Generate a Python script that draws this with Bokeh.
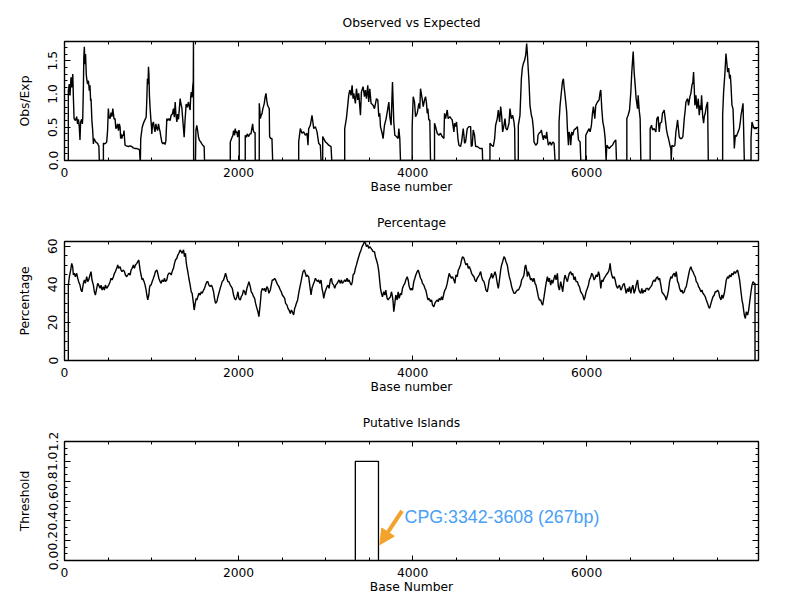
from bokeh.plotting import figure
from bokeh.models import (FixedTicker, LinearAxis, PrintfTickFormatter, Range1d,
                          Arrow, NormalHead, Label, CustomJSTickFormatter)
from bokeh.layouts import column
from bokeh.embed import file_html
from bokeh.resources import INLINE

# ---------------- data ----------------
SEQ_END = 7975

x_major = [0, 2000, 4000, 6000]

# Observed / Expected CpG ratio (base position, ratio)
oe_pos = [
    44, 44, 55, 63, 75, 85, 95, 102, 110, 125, 140, 150, 160, 170, 178, 185, 198, 205, 210, 217,
    222, 228, 235, 242, 250, 255, 265, 275, 285, 293, 300, 305, 315, 324, 332, 340, 351, 365, 380, 389,
    395, 400,
    447, 447, 460, 475, 485, 495, 504, 512, 524, 535, 545, 555, 562, 570, 581, 590, 600, 610, 620, 630,
    639, 645, 650, 658, 668, 677, 684, 690, 696, 710, 735, 750, 773, 790, 811, 830, 850, 862, 869, 872,
    876, 893, 907, 920, 938, 945, 953, 960, 965, 970, 976, 984, 992, 1000, 1003, 1012, 1022, 1030, 1040, 1050,
    1061, 1070, 1080, 1090, 1099, 1108, 1118, 1130, 1145, 1156, 1165, 1176, 1185, 1200, 1214, 1225, 1240, 1252, 1262, 1272,
    1280, 1291, 1300, 1310, 1320, 1329, 1338, 1348, 1360, 1375, 1385, 1398, 1410, 1425, 1435, 1444, 1450, 1456, 1465, 1475,
    1480, 1482, 1484, 1505, 1510, 1520, 1530, 1540, 1552, 1565, 1578, 1595, 1605, 1609,
    1905, 1905, 1920, 1935, 1943, 1955, 1962, 1970, 1981, 1990, 2000, 2008, 2008,
    2077, 2077, 2090, 2100, 2116, 2130, 2143, 2155, 2162, 2170, 2180, 2190, 2192,
    2238, 2238, 2245, 2250, 2260, 2269, 2280, 2296, 2305, 2315, 2325, 2334, 2345, 2353, 2357, 2370, 2384, 2392,
    2691, 2691, 2710, 2729, 2748, 2768, 2787, 2798, 2806, 2825, 2844, 2864, 2883, 2902, 2921, 2940, 2948, 2967, 2967, 2979,
    2998, 3017, 3036, 3063, 3071,
    3220, 3220, 3239, 3255, 3266, 3278, 3293, 3305, 3316, 3324, 3343, 3355, 3370, 3381, 3401, 3412, 3431, 3447, 3458, 3470,
    3485, 3496, 3508, 3523, 3546, 3562, 3585, 3600, 3612, 3623, 3631, 3650, 3661, 3677, 3696, 3715, 3727, 3738, 3753, 3769,
    3784, 3796, 3815, 3834, 3842, 3853, 3861,
    3995, 3995, 4007, 4022, 4034, 4053, 4072, 4083, 4091, 4110, 4122, 4137, 4149, 4160, 4168, 4175, 4187, 4198, 4206,
    4252, 4252, 4264, 4283, 4302, 4321, 4340, 4360, 4367, 4379, 4398, 4409, 4429, 4444, 4455, 4475, 4482, 4494, 4505, 4521,
    4532, 4551, 4563, 4582, 4590, 4597, 4609, 4628, 4647, 4667, 4674, 4686, 4697, 4712, 4724, 4743, 4774, 4801, 4805,
    4889, 4889, 4908, 4927, 4943, 4954, 4973, 4985, 5000, 5012, 5023, 5035, 5050, 5062, 5073, 5088, 5108, 5119, 5134, 5150,
    5165, 5173, 5177,
    5215, 5215, 5234, 5250, 5261, 5273, 5288, 5300, 5311, 5319, 5326, 5338, 5349, 5365, 5376, 5388, 5395, 5415, 5434, 5441,
    5453, 5472, 5480, 5491, 5503, 5511, 5530, 5541, 5549, 5560, 5580, 5595, 5610, 5626, 5637,
    5683, 5683, 5695, 5710, 5722, 5733, 5741, 5748, 5760, 5771, 5779, 5791, 5798, 5810, 5817, 5829, 5840, 5856, 5875, 5894,
    5906, 5925, 5933,
    5990, 5990, 6009, 6028, 6040, 6055, 6067, 6078, 6094, 6105, 6124, 6143, 6155, 6163, 6174, 6186, 6201, 6213, 6224, 6232,
    6259, 6278, 6297, 6316, 6335, 6343,
    6462, 6462, 6477, 6493, 6508, 6519, 6535, 6546, 6558, 6569, 6585, 6592, 6604, 6615, 6623,
    6730, 6730, 6746, 6757, 6776, 6796, 6807, 6822, 6834, 6845, 6861, 6872, 6891, 6903, 6918, 6930, 6941, 6957, 6968, 6972,
    6980, 6999, 7014, 7026, 7037, 7045, 7064, 7076, 7091, 7106, 7122, 7133, 7141, 7160, 7171, 7187, 7198, 7210, 7221, 7229,
    7237, 7244, 7256, 7267, 7283, 7294, 7306, 7313, 7321, 7333, 7344, 7352, 7363, 7375, 7390, 7398,
    7563, 7563, 7574, 7590, 7601, 7613, 7620, 7632, 7643, 7651, 7659, 7670, 7682, 7689, 7697, 7709, 7720, 7735, 7755, 7766,
    7774, 7785, 7797, 7804, 7812,
    7889, 7889, 7900, 7916, 7927, 7946, 7958,
]
oe_val = [
    0, 1.05, 1.15, 0.98, 1.25, 1.10, 1.30, 0.95, 0.63, 0.60, 0.66, 0.55, 0.62, 0.50, 0.31, 0.58, 0.62, 0.55, 0.65, 1.10,
    1.55, 1.71, 1.45, 1.60, 1.30, 1.23, 1.15, 1.20, 1.05, 1.13, 0.90, 0.93, 0.60, 0.45, 0.25, 0.33, 0.30, 0.27, 0.26, 0.23,
    0.22, 0,
    0, 0.26, 0.25, 0.26, 0.28, 0.45, 0.78, 0.65, 0.63, 0.72, 0.66, 0.78, 0.70, 0.62, 0.63, 0.48, 0.50, 0.55, 0.45, 0.55,
    0.50, 0.33, 0.40, 0.33, 0.38, 0.38, 0.45, 0.33, 0.23, 0.22, 0.21, 0.22, 0.21, 0.19, 0.18, 0.18, 0.17, 0.16, 0, 0,
    0.33, 0.50, 0.56, 0.60, 0.65, 0.88, 1.23, 1.15, 1.41, 1.30, 0.98, 0.78, 0.63, 0.50, 0.40, 0.55, 0.58, 0.50, 0.43, 0.55,
    0.48, 0.45, 0.55, 0.48, 0.43, 0.35, 0.28, 0.25, 0.27, 0.24, 0.30, 0.63, 0.60, 0.63, 0.60, 0.68, 0.70, 0.78, 0.65, 0.88,
    0.70, 0.58, 0.70, 0.62, 0.78, 0.93, 0.85, 0.80, 0.60, 0.35, 0.60, 0.85, 0.80, 0.88, 0.80, 0.76, 0.95, 1.03, 0.95, 1.13,
    1.20, 1.79, 0, 0, 0.45, 0.53, 0.45, 0.35, 0.30, 0.28, 0.25, 0.22, 0.21, 0,
    0, 0.28, 0.33, 0.38, 0.45, 0.38, 0.48, 0.42, 0.43, 0.35, 0.45, 0.45, 0,
    0, 0.38, 0.35, 0.40, 0.36, 0.40, 0.40, 0.50, 0.55, 0.45, 0.42, 0.42, 0,
    0, 0.86, 0.75, 0.63, 0.68, 0.70, 0.78, 0.86, 0.95, 1.01, 0.90, 0.83, 0.80, 0.78, 0.36, 0.33, 0.33, 0,
    0, 0.28, 0.48, 0.41, 0.43, 0.38, 0.41, 0.23, 0.48, 0.53, 0.68, 0.48, 0.51, 0.43, 0.26, 0.23, 0, 0, 0.36, 0.33,
    0.28, 0.26, 0.23, 0.21, 0,
    0, 0.48, 0.63, 0.83, 0.98, 1.06, 0.98, 1.13, 0.93, 1.01, 0.86, 1.08, 0.91, 1.01, 0.68, 1.03, 1.11, 0.96, 1.06, 0.93,
    1.13, 0.88, 1.08, 0.86, 0.83, 0.78, 0.93, 0.91, 0.66, 0.71, 0.51, 0.41, 0.33, 0.53, 0.63, 0.78, 0.88, 0.66, 0.53, 1.18,
    0.58, 0.38, 0.36, 0.33, 0.48, 0.33, 0,
    0, 0.50, 0.96, 0.88, 0.66, 0.71, 0.86, 0.78, 1.08, 0.93, 0.81, 0.91, 0.96, 0.86, 0.71, 0.78, 0.61, 0.61, 0,
    0, 0.56, 0.51, 0.41, 0.38, 0.41, 0.36, 0.33, 0.71, 0.63, 0.76, 0.63, 0.66, 0.63, 0.61, 0.43, 0.56, 0.51, 0.58, 0.33,
    0.23, 0.21, 0.28, 0.48, 0.38, 0.26, 0.28, 0.48, 0.51, 0.51, 0.21, 0.23, 0.46, 0.38, 0.21, 0.21, 0.18, 0.18, 0,
    0, 0.26, 0.23, 0.21, 0.33, 0.53, 0.63, 0.76, 0.58, 0.81, 0.68, 0.43, 0.53, 0.63, 0.48, 0.46, 0.56, 0.78, 0.63, 0.68,
    0.58, 0.48, 0,
    0, 0.53, 0.68, 1.23, 1.39, 1.46, 1.51, 1.59, 1.76, 1.61, 1.44, 1.18, 0.83, 0.68, 0.63, 0.48, 0.28, 0.23, 0.26, 0.38,
    0.41, 0.43, 0.46, 0.38, 0.31, 0.38, 0.33, 0.43, 0.33, 0.23, 0.28, 0.23, 0.28, 0.26, 0,
    0, 0.58, 0.83, 1.03, 1.18, 1.23, 1.11, 1.03, 0.88, 0.73, 0.48, 0.23, 0.43, 0.38, 0.23, 0.43, 0.38, 0.46, 0.48, 0.51,
    0.31, 0.28, 0,
    0, 0.38, 0.43, 0.48, 0.43, 0.53, 0.71, 0.81, 0.63, 0.83, 0.88, 0.91, 1.03, 1.06, 0.78, 0.58, 0.48, 0.33, 0, 0.23,
    0.18, 0.21, 0.23, 0.28, 0.31, 0,
    0, 0.63, 0.68, 0.76, 1.03, 1.33, 1.64, 1.33, 1.13, 0.93, 0.78, 0.98, 0.76, 0.63, 0,
    0, 0.48, 0.53, 0.46, 0.48, 0.43, 0.63, 0.66, 0.43, 0.56, 0.58, 0.71, 0.76, 0.63, 0.46, 0.38, 0.33, 0.23, 0.18, 0,
    0.23, 0.21, 0.23, 0.43, 0.53, 0.61, 0.36, 0.33, 0.33, 0.36, 0.63, 0.76, 0.88, 0.93, 0.83, 0.96, 1.01, 1.13, 1.18, 1.33,
    1.08, 0.83, 0.98, 0.78, 0.93, 0.68, 0.83, 0.76, 0.98, 0.68, 0.56, 0.66, 0.71, 0.81, 0.88, 0,
    0, 0.68, 1.03, 1.33, 1.61, 1.44, 1.33, 1.39, 1.23, 1.29, 1.13, 0.83, 0.78, 0.53, 0.18, 0.38, 0.36, 0.41, 0.48, 0.58,
    0.68, 0.76, 0.86, 0.48, 0,
    0, 0.33, 0.58, 0.51, 0.48, 0.48, 0.49,
]

# CG percentage (base position, percent)
pct_pos = [
    44, 44, 56, 71, 83, 94, 102, 113, 125, 140,
    152, 163, 178, 190, 201, 217, 228, 240, 255, 267,
    278, 293, 305, 316, 332, 343, 355, 370, 382, 393,
    409, 420, 432, 447, 458, 470, 485, 497, 508, 524,
    535, 547, 562, 574, 585, 600, 612, 623, 639, 650,
    662, 677, 689, 700, 715, 727, 738, 754, 765, 777,
    792, 804, 815, 831, 842, 853, 861, 869, 880, 892,
    899, 915, 926, 938, 946, 957, 969, 976, 984, 995,
    1007, 1022, 1034, 1045, 1061, 1072, 1084, 1099, 1110, 1122,
    1137, 1149, 1160, 1176, 1187, 1199, 1214, 1226, 1237, 1252,
    1264, 1275, 1291, 1302, 1314, 1329, 1341, 1352, 1368, 1379,
    1390, 1398, 1406, 1417, 1429, 1444, 1456, 1467, 1482, 1490,
    1502, 1513, 1521, 1532, 1544, 1559, 1571, 1582, 1598, 1609,
    1621, 1636, 1648, 1659, 1674, 1686, 1697, 1713, 1724, 1736,
    1751, 1763, 1774, 1789, 1801, 1812, 1828, 1839, 1851, 1866,
    1878, 1889, 1905, 1916, 1928, 1943, 1954, 1966, 1981, 1993,
    2004, 2020, 2031, 2043, 2058, 2070, 2081, 2096, 2108, 2119,
    2135, 2146, 2158, 2173, 2185, 2196, 2211, 2223, 2234, 2250,
    2261, 2273, 2288, 2300, 2311, 2326, 2338, 2349, 2365, 2376,
    2388, 2403, 2415, 2426, 2442, 2453, 2464, 2480, 2491, 2503,
    2518, 2530, 2541, 2557, 2568, 2580, 2595, 2607, 2618, 2633,
    2645,
    2653, 2664, 2679, 2691, 2702, 2718, 2729, 2741, 2756, 2768,
    2779, 2787, 2806, 2818, 2833, 2844, 2856, 2871, 2883, 2894,
    2910, 2921, 2933, 2948, 2959, 2971, 2979, 2990, 3002, 3017,
    3028, 3040, 3055, 3067, 3078, 3094, 3105, 3117, 3132, 3144,
    3155, 3170, 3182, 3193, 3209, 3220, 3232, 3247, 3259, 3270,
    3285, 3297, 3308, 3316, 3331, 3343, 3355, 3370, 3381, 3393,
    3408, 3420, 3431, 3447, 3458, 3470, 3485, 3496, 3508, 3523,
    3535, 3546, 3562, 3573, 3585, 3600, 3612, 3623, 3631, 3642,
    3654, 3669, 3681, 3692, 3707, 3719, 3730, 3746, 3757, 3769,
    3776, 3784, 3796, 3807, 3823, 3834, 3846, 3861, 3872, 3884,
    3899, 3911, 3922, 3938, 3949, 3961, 3976, 3987, 3999, 4014,
    4026, 4037, 4053, 4064, 4076, 4091, 4103, 4114, 4129, 4141,
    4152, 4168, 4179, 4191, 4206, 4218, 4229, 4244, 4256, 4267,
    4283, 4294, 4306, 4321, 4333, 4344, 4360, 4371, 4383, 4398,
    4409, 4421, 4436, 4448, 4459, 4475, 4486, 4498, 4513, 4525,
    4536, 4551, 4563, 4574, 4590, 4601, 4613, 4628, 4640, 4651,
    4667, 4678, 4689, 4705, 4716, 4728, 4743, 4755, 4766, 4782,
    4793, 4805, 4820, 4831, 4843, 4858, 4870, 4881, 4897, 4908,
    4920, 4935, 4947, 4958, 4973, 4985, 4996, 5012, 5023, 5035,
    5050, 5062, 5073, 5088, 5100, 5111, 5127, 5138, 5150, 5165,
    5177, 5188, 5203, 5215, 5226, 5242, 5253, 5265, 5280, 5292,
    5300, 5311, 5319, 5330, 5342, 5357, 5369, 5380, 5395, 5407,
    5418, 5434, 5445, 5457, 5472, 5484, 5495, 5511, 5522, 5534,
    5549, 5560, 5572, 5587, 5599, 5610, 5626, 5637, 5649, 5664,
    5675, 5687, 5702, 5714, 5725, 5741, 5752, 5764, 5779, 5791,
    5802, 5817, 5829, 5840, 5856, 5867, 5879, 5894, 5906, 5917,
    5932, 5944, 5955, 5971, 5982, 5994, 6009, 6021, 6032, 6048,
    6059, 6071, 6086, 6097, 6109, 6124, 6136, 6147, 6163, 6174,
    6186, 6201, 6213, 6224, 6239, 6251, 6262, 6270, 6278, 6289,
    6301, 6316, 6328, 6339, 6354, 6366, 6377, 6393, 6404, 6416,
    6431, 6443, 6454, 6470, 6481, 6493, 6508, 6519, 6531, 6546,
    6558, 6569, 6585, 6596, 6608, 6623, 6634, 6646, 6661, 6673,
    6684, 6700, 6711, 6723, 6738, 6750, 6761, 6776, 6788, 6799,
    6815, 6826, 6838, 6853, 6865, 6876, 6891, 6903, 6914, 6930,
    6941, 6953, 6968, 6980, 6991, 7007, 7018, 7030, 7045, 7056,
    7068, 7083, 7095, 7106, 7122, 7133, 7145, 7160, 7171, 7183,
    7198, 7210, 7221, 7237, 7248, 7260, 7275, 7286, 7298, 7313,
    7325, 7336, 7352, 7363, 7375, 7390, 7402, 7413, 7429, 7440,
    7452, 7467, 7478, 7490, 7505, 7517, 7528, 7544, 7555, 7567,
    7582, 7594, 7605, 7620, 7632, 7643, 7659, 7670, 7682, 7697,
    7709, 7720, 7735, 7747, 7758, 7774, 7785, 7797, 7804, 7812,
    7824, 7835, 7850, 7862, 7874, 7889, 7900, 7912, 7927, 7935,
    7935,
]
pct_val = [
    0, 39.6, 44.0, 47.5, 51.0, 49.3, 44.9, 45.8, 44.0, 45.8,
    43.2, 41.4, 39.6, 37.0, 36.1, 40.5, 42.3, 40.5, 44.0, 41.4,
    42.3, 44.9, 46.7, 42.3, 39.6, 36.1, 34.4, 37.9, 40.5, 39.6,
    37.9, 39.6, 37.0, 38.8, 37.0, 39.6, 37.9, 38.8, 39.6, 41.4,
    43.2, 42.3, 44.0, 45.8, 46.7, 48.4, 50.2, 48.4, 49.3, 47.5,
    46.7, 47.5, 46.7, 44.9, 44.0, 44.9, 45.8, 44.9, 47.5, 48.4,
    50.2, 48.4, 50.2, 51.0, 51.9, 52.8, 50.2, 47.5, 44.9, 42.3,
    43.2, 41.4, 39.6, 37.0, 34.4, 31.8, 34.4, 37.9, 39.6, 39.6,
    41.4, 43.2, 44.9, 46.7, 47.5, 45.8, 43.2, 41.4, 40.5, 42.3,
    41.4, 43.2, 41.4, 42.3, 44.9, 45.8, 45.8, 44.9, 46.7, 48.4,
    51.0, 52.8, 53.7, 55.4, 56.3, 58.1, 57.2, 56.3, 58.1, 54.5,
    56.3, 51.9, 49.3, 46.7, 43.2, 39.6, 36.1, 35.3, 30.0, 26.5,
    30.0, 32.6, 31.8, 33.5, 35.3, 34.4, 36.1, 35.3, 37.0, 37.9,
    39.6, 41.4, 41.4, 39.6, 38.8, 39.6, 38.8, 36.1, 32.6, 30.0,
    30.9, 33.5, 35.3, 37.9, 39.6, 41.4, 42.3, 44.0, 45.8, 43.2,
    41.4, 41.4, 39.6, 38.8, 37.9, 34.4, 32.6, 31.8, 33.5, 36.1,
    32.6, 31.8, 33.5, 34.4, 37.0, 36.1, 34.4, 37.9, 39.6, 41.4,
    38.8, 36.1, 35.3, 33.5, 32.6, 30.0, 27.4, 25.6, 23.0, 30.0,
    36.1, 37.9, 37.0, 37.9, 36.1, 38.8, 37.9, 35.3, 37.0, 39.6,
    42.3, 42.3, 43.2, 42.3, 40.5, 39.6, 38.8, 37.0, 36.1, 34.4,
    33.5, 32.6, 30.0, 29.1, 27.4, 26.5, 24.7, 26.5, 25.6, 23.9,
    27.4,
    28.2, 30.0, 31.8, 35.3, 37.9, 41.4, 44.0, 46.7, 47.5, 45.8,
    44.0, 44.9, 44.0, 39.6, 34.4, 37.9, 39.6, 41.4, 43.2, 42.3,
    41.4, 42.3, 40.5, 42.3, 37.9, 35.3, 32.6, 35.3, 37.0, 38.8,
    39.6, 37.9, 42.3, 43.2, 40.5, 39.6, 37.9, 39.6, 40.5, 41.4,
    42.3, 40.5, 42.3, 40.5, 41.4, 42.3, 41.4, 43.2, 41.4, 42.3,
    40.5, 39.6, 41.4, 44.9, 45.8, 48.4, 50.2, 52.8, 54.5, 56.3,
    58.1, 59.8, 60.7, 62.4, 61.6, 59.8, 60.7, 58.9, 59.8, 58.9,
    58.1, 57.2, 57.2, 54.5, 52.8, 50.2, 46.7, 41.4, 37.9, 35.3,
    33.5, 36.1, 34.4, 37.0, 32.6, 31.8, 32.6, 33.5, 36.1, 33.5,
    30.9, 25.6, 30.0, 34.4, 31.8, 36.1, 32.6, 35.3, 34.4, 37.9,
    39.6, 40.5, 42.3, 44.0, 42.3, 38.8, 37.0, 37.9, 37.0, 41.4,
    43.2, 44.9, 46.7, 47.5, 45.8, 43.2, 42.3, 40.5, 39.6, 37.9,
    37.0, 33.5, 31.8, 32.6, 30.9, 31.8, 29.1, 28.2, 30.0, 30.9,
    31.8, 30.9, 32.6, 31.8, 33.5, 31.8, 35.3, 37.0, 37.9, 40.5,
    43.2, 45.8, 44.0, 43.2, 44.0, 42.3, 40.5, 44.9, 44.0, 47.5,
    48.4, 50.2, 52.8, 54.5, 53.7, 51.9, 50.2, 51.0, 48.4, 49.3,
    47.5, 45.8, 44.9, 44.0, 42.3, 41.4, 43.2, 44.0, 44.9, 46.7,
    44.0, 42.3, 41.4, 39.6, 37.0, 36.1, 38.8, 42.3, 44.0, 45.8,
    43.2, 44.9, 46.7, 44.9, 40.5, 37.9, 41.4, 47.5, 50.2, 51.9,
    54.5, 53.7, 51.9, 50.2, 46.7, 44.0, 41.4, 38.8, 37.0, 35.3,
    35.3, 36.1, 37.0, 37.0, 37.9, 39.6, 42.3, 43.2, 44.9, 49.3,
    50.2, 47.5, 44.0, 46.7, 44.9, 42.3, 43.2, 41.4, 43.2, 40.5,
    39.6, 36.1, 33.5, 31.8, 31.8, 30.0, 29.1, 33.5, 37.0, 40.5,
    44.0, 41.4, 43.2, 39.6, 42.3, 40.5, 43.2, 44.9, 42.3, 45.8,
    38.8, 37.0, 41.4, 38.8, 36.1, 42.3, 44.9, 43.2, 41.4, 44.0,
    45.8, 46.7, 44.9, 45.8, 42.3, 44.0, 41.4, 41.4, 39.6, 38.8,
    36.1, 35.3, 34.4, 31.8, 33.5, 36.1, 37.9, 39.6, 42.3, 44.0,
    45.8, 44.9, 42.3, 43.2, 44.9, 44.0, 46.7, 44.9, 37.9, 42.3,
    41.4, 43.2, 44.0, 44.9, 45.8, 46.7, 48.4, 51.0, 47.5, 44.9,
    43.2, 44.0, 42.3, 39.6, 37.9, 38.8, 39.6, 37.0, 37.9, 39.6,
    40.5, 37.9, 35.3, 37.9, 36.1, 38.8, 35.3, 37.9, 39.6, 35.3,
    37.0, 39.6, 42.3, 37.9, 36.1, 35.3, 37.9, 35.3, 37.0, 36.1,
    37.9, 37.9, 37.0, 37.9, 38.8, 39.6, 41.4, 42.3, 41.4, 43.2,
    44.0, 42.3, 43.2, 39.6, 36.1, 35.3, 34.4, 33.5, 31.8, 34.4,
    37.0, 41.4, 44.0, 43.2, 44.9, 45.8, 44.0, 46.7, 41.4, 40.5,
    37.9, 36.1, 37.0, 35.3, 36.1, 37.9, 38.8, 42.3, 44.9, 47.5,
    49.3, 47.5, 46.7, 44.9, 44.0, 41.4, 40.5, 38.8, 37.9, 36.1,
    37.0, 35.3, 34.4, 33.5, 31.8, 30.0, 28.2, 27.4, 30.0, 31.8,
    33.5, 34.4, 36.1, 36.1, 37.0, 36.1, 33.5, 31.8, 34.4, 32.6,
    35.3, 38.8, 42.3, 44.0, 43.2, 44.9, 44.0, 45.8, 44.9, 46.7,
    45.8, 46.7, 47.5, 44.9, 42.3, 36.1, 31.8, 29.1, 26.5, 23.9,
    22.1, 25.6, 23.9, 26.5, 30.9, 36.1, 39.6, 41.4, 40.5, 40.5,
    0,
]

# Putative CpG island
island_start = 3342
island_end = 3608
island_threshold = 1.0
island_label = "CPG:3342-3608 (267bp)"

# ---------------- styling helpers ----------------
FONT = "DejaVu Sans"
FS = "12.3px"
BLANK = CustomJSTickFormatter(code="return '';")


def style_axis(ax, show_labels):
    ax.axis_line_color = None
    ax.major_tick_line_color = "black"
    ax.minor_tick_line_color = "black"
    ax.major_tick_out = 0
    ax.minor_tick_out = 0
    ax.major_label_text_font = FONT
    ax.major_label_text_color = "black"
    ax.axis_label_text_font = FONT
    ax.axis_label_text_font_style = "normal"
    ax.axis_label_text_font_size = FS
    ax.axis_label_text_color = "black"
    ax.major_label_text_font_size = FS
    if not show_labels:
        ax.major_label_standoff = 0


def panel(title, xlabel, ylabel, y_end, y_major, y_minor, y_fmt):
    p = figure(width=800, height=200, output_backend="svg", toolbar_location=None,
               x_range=Range1d(0, SEQ_END), y_range=Range1d(0, y_end),
               x_axis_type=None, y_axis_type=None,
               min_border_left=64, min_border_right=42,
               min_border_top=41, min_border_bottom=40,
               outline_line_color="black", outline_line_width=1.4,
               background_fill_color="white", border_fill_color="white")
    p.title.text = title
    p.title.align = "center"
    p.title.text_font = FONT
    p.title.text_font_size = FS
    p.title.text_font_style = "normal"
    p.title.text_color = "black"
    p.title.standoff = 24

    x_minor = [v for v in range(500, SEQ_END, 500) if v % 2000 != 0]
    xt = FixedTicker(ticks=x_major, minor_ticks=x_minor)
    yt = FixedTicker(ticks=y_major, minor_ticks=y_minor)

    bx = LinearAxis(ticker=xt, formatter=PrintfTickFormatter(format="%d"), axis_label=xlabel)
    style_axis(bx, True)
    bx.major_tick_in = 5
    bx.minor_tick_in = 3
    bx.major_label_standoff = 7
    bx.axis_label_standoff = 0
    p.add_layout(bx, "below")

    tx = LinearAxis(ticker=xt, formatter=BLANK)
    style_axis(tx, False)
    tx.major_tick_in = 5
    tx.minor_tick_in = 3
    p.add_layout(tx, "above")

    ly = LinearAxis(ticker=yt, formatter=PrintfTickFormatter(format=y_fmt), axis_label=ylabel)
    style_axis(ly, True)
    ly.major_tick_in = 6
    ly.minor_tick_in = 3
    ly.major_label_orientation = "vertical"
    ly.major_label_standoff = 7
    ly.axis_label_standoff = 14
    p.add_layout(ly, "left")

    ry = LinearAxis(ticker=yt, formatter=BLANK)
    style_axis(ry, False)
    ry.major_tick_in = 6
    ry.minor_tick_in = 3
    p.add_layout(ry, "right")
    return p


# Panel 1: Observed vs Expected
p1 = panel("Observed vs Expected", "Base number", "Obs/Exp", 1.79,
           [0, 0.5, 1.0, 1.5], [i / 10 for i in range(1, 18) if i % 5 != 0], "%.1f")
p1.line(oe_pos, oe_val, line_color="black", line_width=1.4)

# Panel 2: Percentage
p2 = panel("Percentage", "Base number", "Percentage", 62.5,
           [0, 20, 40, 60], [v for v in range(5, 62, 5) if v % 20 != 0], "%d")
p2.line(pct_pos, pct_val, line_color="black", line_width=1.4)

# Panel 3: Putative Islands
p3 = panel("Putative Islands", "Base Number", "Threshold", 1.2,
           [0, 0.2, 0.4, 0.6, 0.8, 1.0, 1.2], [i * 0.2 / 3 for i in range(1, 18) if i % 3 != 0], "%.1f")
p3.line([island_start, island_start, island_end, island_end],
        [0, island_threshold, island_threshold, 0], line_color="black", line_width=1.3)

ORANGE = "#f3a22c"
p3.add_layout(Arrow(end=NormalHead(size=15, fill_color=ORANGE, line_color=ORANGE),
                    x_start=island_end + 270, y_start=0.50,
                    x_end=island_end + 15, y_end=0.16,
                    line_color=ORANGE, line_width=4))
p3.add_layout(Label(x=island_end + 300, y=0.438, text=island_label,
                    text_font="Liberation Sans", text_font_size="17.8px",
                    text_color="#4a9ff5", text_baseline="alphabetic"))

layout = column(p1, p2, p3, spacing=0)
open("out.html", "w").write(file_html(layout, INLINE))
